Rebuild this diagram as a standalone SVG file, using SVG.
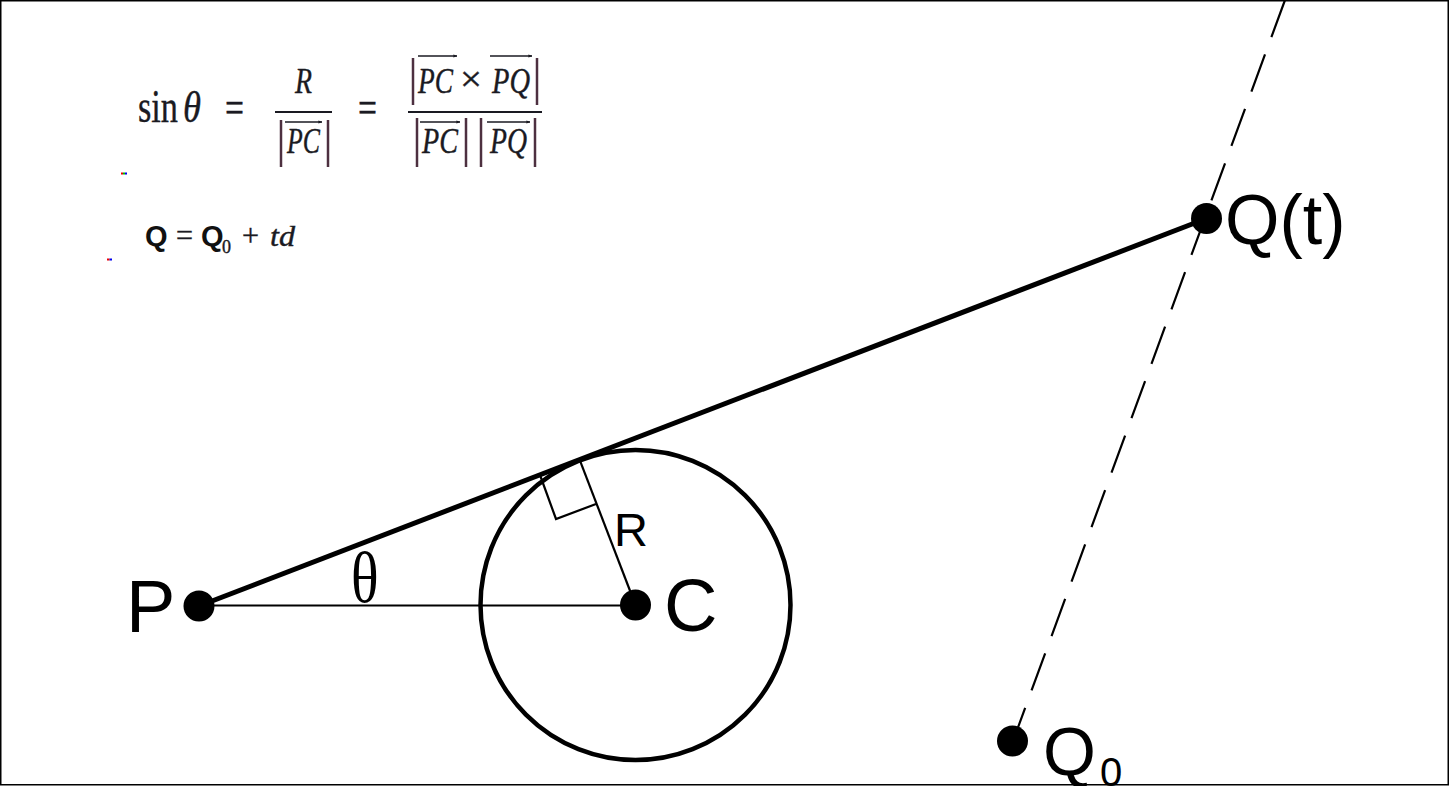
<svg xmlns="http://www.w3.org/2000/svg" width="1451" height="786" viewBox="0 0 1451 786">
<defs>
<style>
.lbl{font-family:"Liberation Sans",Arial,sans-serif;fill:#000}
.m{font-family:"Liberation Serif","Times New Roman",serif;fill:#1a1a22;stroke:#1a1a22;stroke-width:0.4}
.mi{font-family:"Liberation Serif","Times New Roman",serif;font-style:italic;fill:#1a1a22;stroke:#1a1a22;stroke-width:0.4}
.bar{stroke:#4d3040;stroke-width:2.5}
.fb{stroke:#1a1a22;stroke-width:2.2}
.vec{stroke:#1a1a22;stroke-width:1.6;fill:none}
.dot{fill:#000}
</style>
<marker id="ah" viewBox="0 0 10 10" refX="9" refY="5" markerWidth="4" markerHeight="4" orient="auto" markerUnits="userSpaceOnUse">
<path d="M0,1 L10,5 L0,9 z" fill="#1a1a22"/>
</marker>
</defs>
<rect x="0" y="0" width="1451" height="786" fill="#fff"/>

<g id="formula1">
<text class="m" x="138" y="122" font-size="46" textLength="40" lengthAdjust="spacingAndGlyphs">sin</text>
<text class="mi" x="183" y="122" font-size="44" textLength="18" lengthAdjust="spacingAndGlyphs">θ</text>
<text class="m" x="225" y="122" font-size="44" textLength="19" lengthAdjust="spacingAndGlyphs">=</text>
<text class="mi" x="295" y="93" font-size="35" textLength="17" lengthAdjust="spacingAndGlyphs">R</text>
<line class="fb" x1="275" y1="112" x2="332" y2="112"/>
<line class="bar" x1="281" y1="120" x2="281" y2="167"/>
<line class="bar" x1="328" y1="120" x2="328" y2="167"/>
<text class="mi" x="287" y="153" font-size="35" textLength="33" lengthAdjust="spacingAndGlyphs">PC</text>
<line class="vec" x1="285" y1="122" x2="322" y2="122" marker-end="url(#ah)"/>
<text class="m" x="358" y="122" font-size="44" textLength="19" lengthAdjust="spacingAndGlyphs">=</text>
<line class="fb" x1="408" y1="112" x2="542" y2="112"/>
<line class="bar" x1="413" y1="58" x2="413" y2="105"/>
<line class="bar" x1="537" y1="58" x2="537" y2="105"/>
<text class="mi" x="418" y="93" font-size="35" textLength="35" lengthAdjust="spacingAndGlyphs">PC</text>
<text class="m" x="460" y="91" font-size="35" textLength="22" lengthAdjust="spacingAndGlyphs">×</text>
<text class="mi" x="492" y="93" font-size="35" textLength="38" lengthAdjust="spacingAndGlyphs">PQ</text>
<line class="vec" x1="418" y1="56" x2="457" y2="56" marker-end="url(#ah)"/>
<line class="vec" x1="490" y1="56" x2="532" y2="56" marker-end="url(#ah)"/>
<line class="bar" x1="417" y1="118" x2="417" y2="167"/>
<line class="bar" x1="466" y1="118" x2="466" y2="167"/>
<line class="bar" x1="481" y1="118" x2="481" y2="167"/>
<line class="bar" x1="535" y1="118" x2="535" y2="167"/>
<text class="mi" x="422" y="153" font-size="35" textLength="36" lengthAdjust="spacingAndGlyphs">PC</text>
<text class="mi" x="490" y="153" font-size="35" textLength="37" lengthAdjust="spacingAndGlyphs">PQ</text>
<line class="vec" x1="420" y1="122" x2="460" y2="122" marker-end="url(#ah)"/>
<line class="vec" x1="487" y1="122" x2="530" y2="122" marker-end="url(#ah)"/>
<rect x="121" y="172.5" width="2" height="2" fill="#e00"/>
<rect x="123" y="172.5" width="2" height="2" fill="#0b0"/>
<rect x="125" y="172.5" width="2" height="2" fill="#00e"/>
</g>

<g id="formula2">
<text x="145" y="246" font-family="Liberation Sans,Arial,sans-serif" font-weight="bold" font-size="29" fill="#111">Q</text>
<text class="m" x="176" y="246" font-size="32" textLength="17" lengthAdjust="spacingAndGlyphs">=</text>
<text x="201" y="246" font-family="Liberation Sans,Arial,sans-serif" font-weight="bold" font-size="29" fill="#111">Q</text>
<text class="m" x="222" y="253" font-size="18">0</text>
<text class="m" x="242" y="246" font-size="32" textLength="17" lengthAdjust="spacingAndGlyphs">+</text>
<text class="mi" x="270" y="246" font-size="30" textLength="25" lengthAdjust="spacingAndGlyphs">td</text>
<rect x="107" y="258.5" width="2.5" height="2" fill="#e00"/>
<rect x="109.5" y="258.5" width="2.5" height="2" fill="#00e"/>
</g>

<g id="connectors">
<line x1="1285" y1="0" x2="1013" y2="741" stroke="#000" stroke-width="2.2" stroke-dasharray="39.5 18.5"/>
<line x1="199" y1="606" x2="1206.5" y2="218.5" stroke="#000" stroke-width="5"/>
<line x1="199" y1="605.5" x2="635.5" y2="605.5" stroke="#000" stroke-width="2.2"/>
<line x1="579.6" y1="459.6" x2="635.5" y2="605" stroke="#000" stroke-width="2.2"/>
<polyline points="540,475 556,519 596,504" fill="none" stroke="#000" stroke-width="2.2"/>
</g>

<g id="circle">
<circle cx="635.5" cy="605" r="155" fill="none" stroke="#000" stroke-width="4.5"/>
</g>

<g id="node-P">
<circle class="dot" cx="199" cy="606" r="15.5"/>
<text class="lbl" x="126" y="632" font-size="74">P</text>
</g>
<g id="node-C">
<circle class="dot" cx="635.5" cy="605" r="15.5"/>
<text class="lbl" x="664" y="631" font-size="74">C</text>
</g>
<g id="node-Qt">
<circle class="dot" cx="1206.5" cy="218.5" r="15.5"/>
<text class="lbl" x="1225" y="244" font-size="70">Q(t)</text>
</g>
<g id="node-Q0">
<circle class="dot" cx="1012.5" cy="741" r="15.5"/>
<text class="lbl" x="1043" y="775" font-size="68">Q</text>
<text class="lbl" x="1100" y="786" font-size="40">0</text>
</g>
<g id="label-R">
<text class="lbl" x="614" y="546" font-size="47">R</text>
</g>
<g id="label-theta">
<text transform="translate(351,602) scale(0.8,1)" font-family="Liberation Serif,Times New Roman,serif" font-size="72" fill="#000">θ</text>
</g>

<rect x="0.75" y="0.75" width="1447.5" height="784" fill="none" stroke="#000" stroke-width="1.5"/>
</svg>
